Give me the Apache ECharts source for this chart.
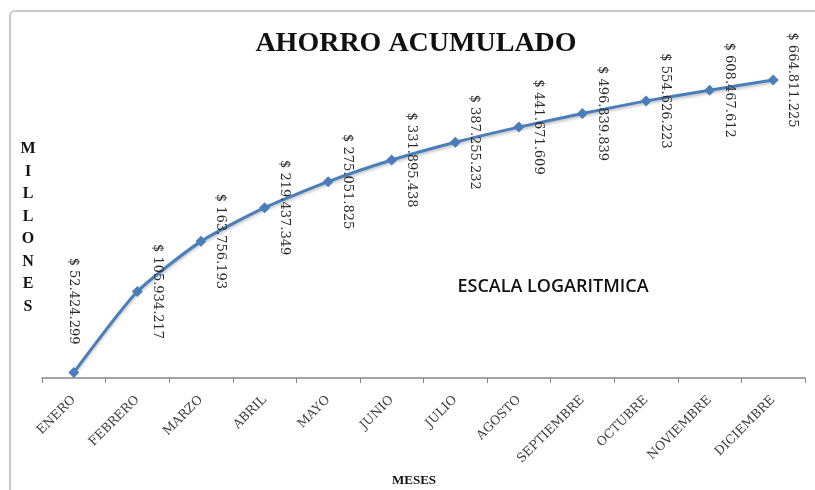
<!DOCTYPE html>
<html>
<head>
<meta charset="utf-8">
<script src="https://cdn.jsdelivr.net/npm/echarts@6/dist/echarts.min.js"></script>
<style>
html,body{margin:0;padding:0;background:#fff;}
#chart{width:815px;height:490px;}
</style>
</head>
<body>
<div id="chart"></div>
<script>
const categories = ['ENERO','FEBRERO','MARZO','ABRIL','MAYO','JUNIO','JULIO','AGOSTO','SEPTIEMBRE','OCTUBRE','NOVIEMBRE','DICIEMBRE'];
const ahorro = [52424299,105934217,163756193,219437349,275051825,331895438,387255232,441671609,496839839,554626223,608467612,664811225];
const titleText = 'AHORRO ACUMULADO';
const yName = 'MILLONES';
const xName = 'MESES';
const note = 'ESCALA LOGARITMICA';

function fmt(v){
  return '$ ' + String(Math.round(v)).replace(/\B(?=(\d{3})+(?!\d))/g, '.');
}

const seriesData = ahorro.map((v,i) => {
  if (i === 0) {
    return {value: v, label: {position: 'top', distance: 66}};
  }
  return v;
});

const chart = echarts.init(document.getElementById('chart'));
chart.setOption({
  animation: false,
  backgroundColor: '#fff',
  grid: {left: 42, right: 10, top: 33, bottom: 112},
  graphic: [
    {type: 'rect', shape: {x: 10, y: 11, width: 830, height: 520, r: 5}, style: {fill: 'none', stroke: '#c8c8c8', lineWidth: 2}, z: -1},
    {type: 'text', x: 416, y: 44, style: {text: titleText, font: 'bold 28px "Liberation Serif"', fill: '#111', align: 'center', verticalAlign: 'middle'}},
    {type: 'text', x: 553, y: 287, style: {text: note, font: '600 18px "Open Sans"', fill: '#111', align: 'center', verticalAlign: 'middle'}},
    {type: 'text', x: 28, y: 228, style: {text: yName.split('').join('\n'), font: 'bold 16px "Liberation Serif"', lineHeight: 22.5, fill: '#111', align: 'center', verticalAlign: 'middle'}},
    {type: 'text', x: 414, y: 481, style: {text: xName, font: 'bold 13px "Liberation Serif"', fill: '#111', align: 'center', verticalAlign: 'middle'}}
  ],
  xAxis: {
    type: 'category',
    data: categories,
    boundaryGap: true,
    axisLine: {lineStyle: {color: '#888', width: 1.5}},
    axisTick: {show: true, length: 5, lineStyle: {color: '#888'}},
    axisLabel: {interval: 0, rotate: 45, margin: 20, fontFamily: 'DejaVu Serif', fontSize: 12.5, color: '#404040'}
  },
  yAxis: {
    type: 'log',
    logBase: 10,
    min: 50000000,
    max: 1000000000,
    axisLine: {show: false},
    axisTick: {show: false},
    axisLabel: {show: false},
    splitLine: {show: false}
  },
  series: [{
    type: 'line',
    data: seriesData,
    smooth: 0.2,
    symbol: 'diamond',
    symbolSize: 11,
    lineStyle: {color: '#4a7ebb', width: 3, shadowColor: 'rgba(0,0,0,0.25)', shadowBlur: 3, shadowOffsetY: 2},
    itemStyle: {color: '#4a7ebb'},
    label: {
      show: true,
      position: 'right',
      distance: 14,
      rotate: -90,
      align: 'center',
      verticalAlign: 'middle',
      fontFamily: 'DejaVu Serif',
      fontSize: 13,
      color: '#2a2a2a',
      formatter: p => fmt(p.value)
    }
  }]
});
</script>
</body>
</html>
